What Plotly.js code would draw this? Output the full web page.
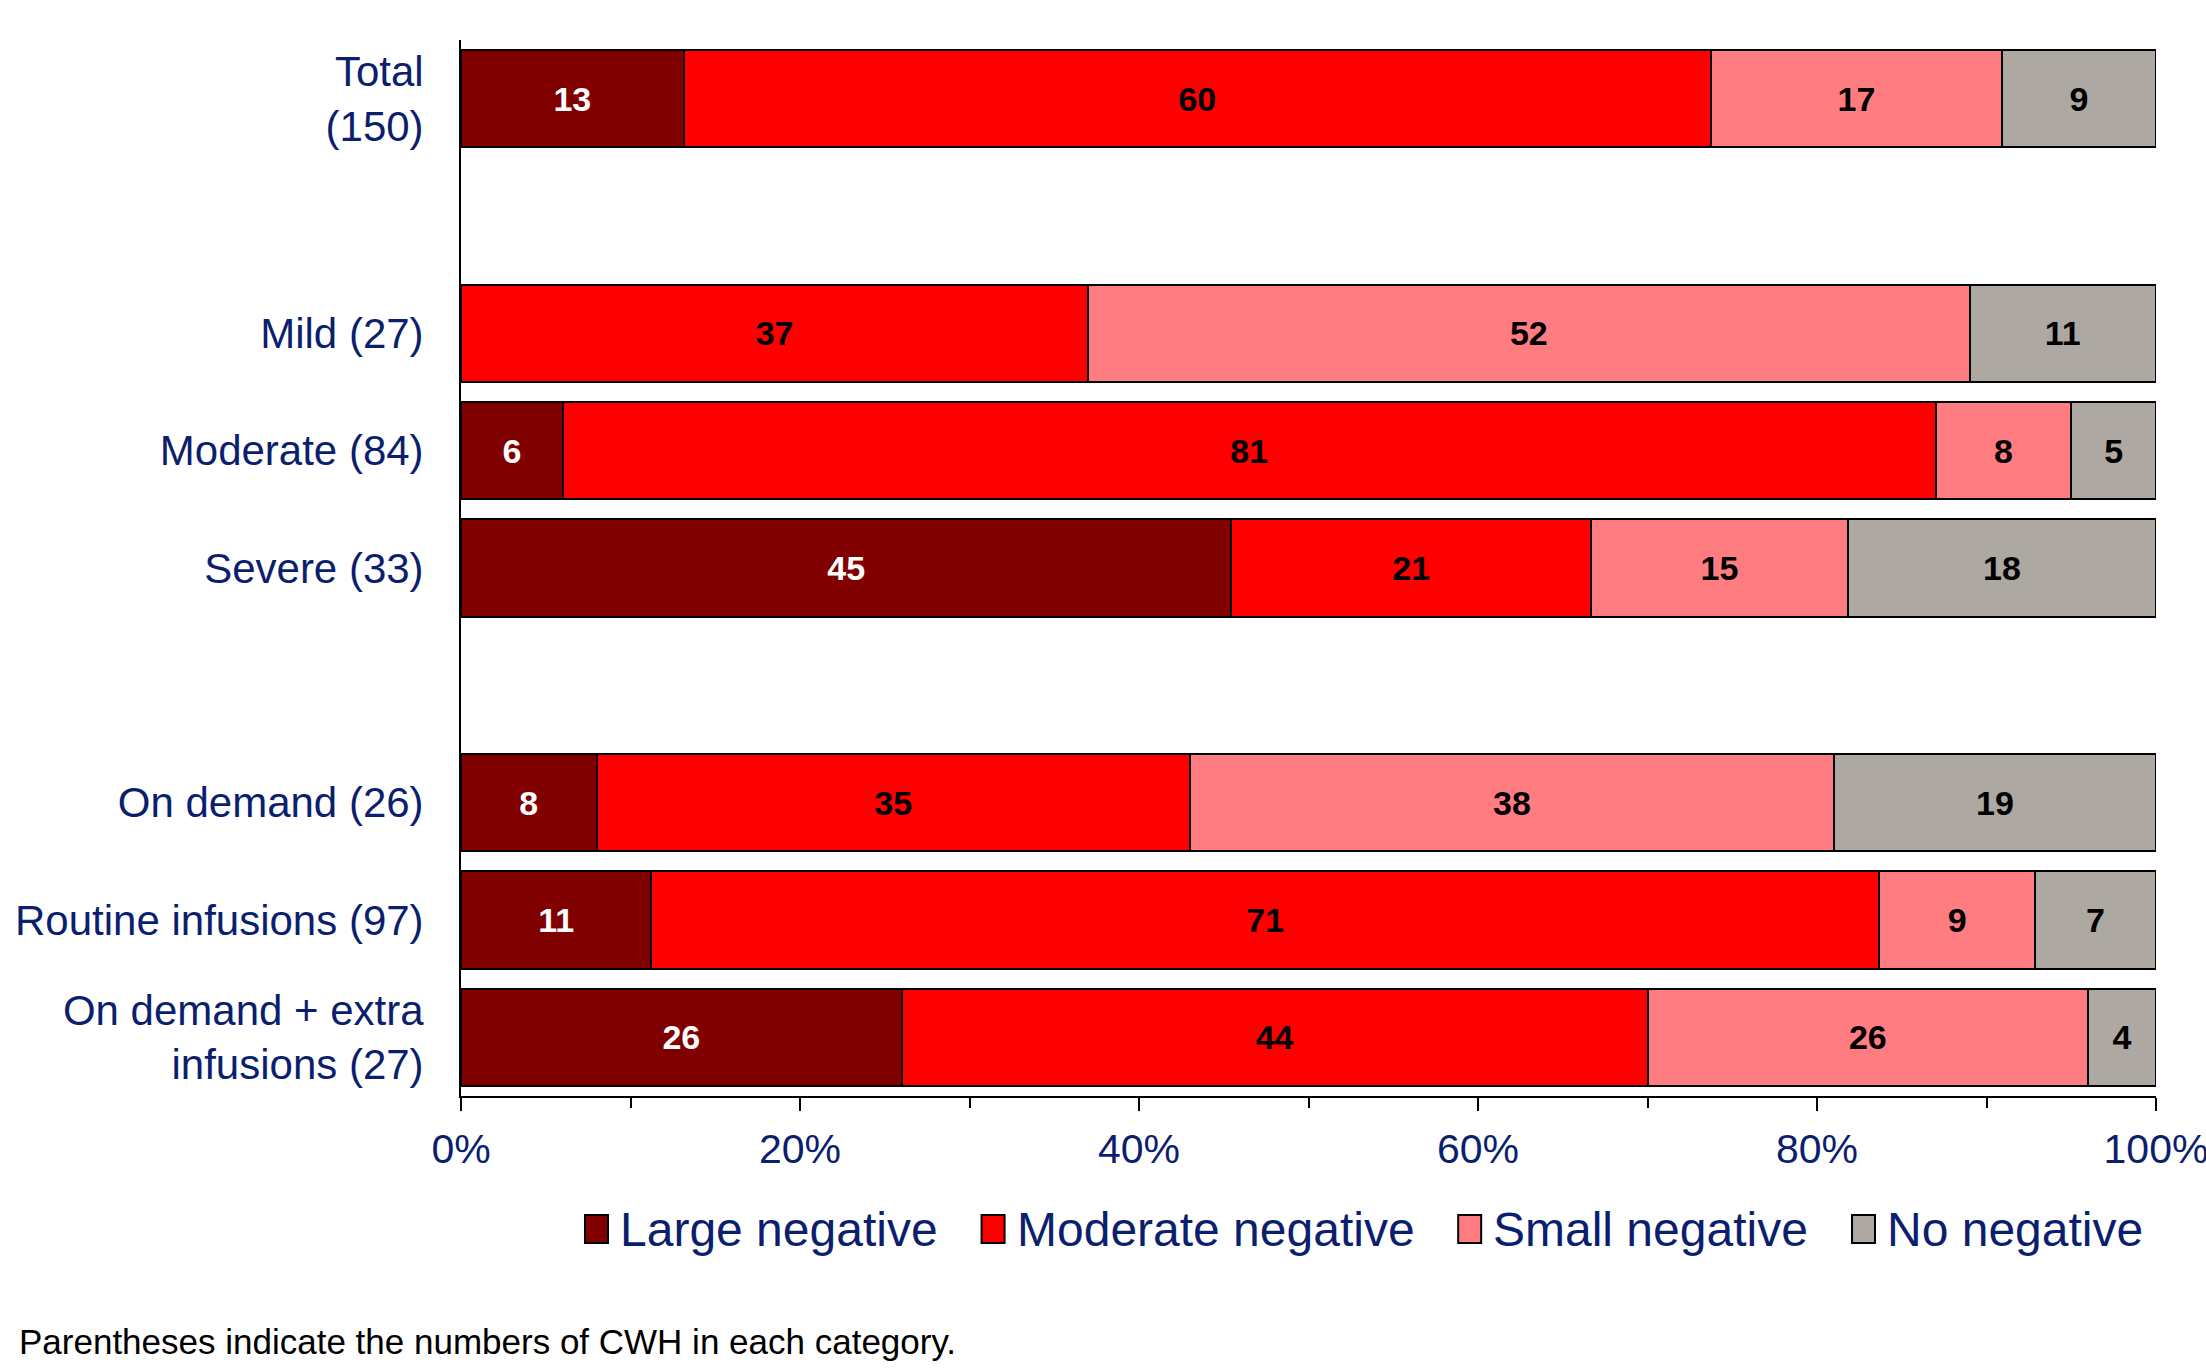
<!DOCTYPE html>
<html>
<head>
<meta charset="utf-8">
<script src="https://cdn.plot.ly/plotly-3.0.1.min.js"></script>
<style>
  html, body { margin: 0; padding: 0; background: #ffffff; }
  #chart { width: 2206px; height: 1371px; }
</style>
</head>
<body>
<div id="chart"></div>
<script>
// Category rows (blank entries are spacer rows between the groups)
const categories = [
  "Total<br>(150)", " ",
  "Mild (27)", "Moderate (84)", "Severe (33)", "  ",
  "On demand (26)", "Routine infusions (97)", "On demand + extra<br>infusions (27)"
];

// Series (percent of CWH in each row)
const seriesNames = ["Large negative", "Moderate negative", "Small negative", "No negative"];
const largeNegative    = [13, null, null,  6, 45, null,  8, 11, 26];
const moderateNegative = [60, null,   37, 81, 21, null, 35, 71, 44];
const smallNegative    = [17, null,   52,  8, 15, null, 38,  9, 26];
const noNegative       = [ 9, null,   11,  5, 18, null, 19,  7,  4];

// Axis ticks
const xTickVals = [0, 20, 40, 60, 80, 100];
const xTickText = ["0%", "20%", "40%", "60%", "80%", "100%"];

const footnote = "Parentheses indicate the numbers of CWH in each category.";

// Styling
const seriesColors = ["#800000", "#FF0000", "#FF7C80", "#AEA8A2"];
const labelColors  = ["#FFFFFF", "#000000", "#000000", "#000000"];
const navy = "#0B1F6E";
const FONT = "Liberation Sans, Arial, sans-serif";

const W = 2206, H = 1371;
const M = { l: 461, r: 50, t: 40, b: 275 };
const plotW = W - M.l - M.r, plotH = H - M.t - M.b;
const px2x = p => (p - M.l) / plotW;
const px2y = p => (H - M.b - p) / plotH;

const allSeries = [largeNegative, moderateNegative, smallNegative, noNegative];

const traces = allSeries.map((vals, i) => ({
  type: "bar",
  orientation: "h",
  name: seriesNames[i],
  y: categories,
  x: vals,
  text: vals.map(v => (v == null ? "" : String(v))),
  texttemplate: "%{text}",
  textposition: "inside",
  insidetextanchor: "middle",
  textangle: 0,
  constraintext: "none",
  textfont: { family: FONT, size: 34, weight: "bold", color: labelColors[i] },
  marker: { color: seriesColors[i], line: { color: "#000000", width: 2 } },
  hoverinfo: "skip"
}));

// Legend drawn as swatches + labels below the axis
const shapes = [];
const annotations = [];
const meas = document.createElement("canvas").getContext("2d");
const legendFontSize = 48;
meas.font = legendFontSize + "px 'Liberation Sans'";
let lx = 585;
const swW = 23, swTop = 1215, swBot = 1243, legY = 1229;
seriesNames.forEach((name, i) => {
  shapes.push({
    type: "rect", xref: "paper", yref: "paper",
    x0: px2x(lx), x1: px2x(lx + swW), y0: px2y(swBot), y1: px2y(swTop),
    fillcolor: seriesColors[i], line: { color: "#000000", width: 2 }
  });
  const tx = lx + swW + 10;
  annotations.push({
    xref: "paper", yref: "paper", x: px2x(tx), y: px2y(legY),
    xanchor: "left", yanchor: "middle", showarrow: false,
    text: name, font: { family: FONT, size: legendFontSize, color: navy }
  });
  lx = tx + meas.measureText(name).width + 46;
});

annotations.push({
  xref: "paper", yref: "paper", x: px2x(17), y: px2y(1341),
  xanchor: "left", yanchor: "middle", showarrow: false,
  text: footnote, font: { family: FONT, size: 35, color: "#000000" }
});

const layout = {
  width: W, height: H,
  margin: M,
  paper_bgcolor: "#ffffff",
  plot_bgcolor: "#ffffff",
  barmode: "stack",
  barnorm: "percent",
  bargap: 0.17,
  showlegend: false,
  font: { family: FONT, color: navy },
  xaxis: {
    range: [0, 100.0001],
    tickvals: xTickVals,
    ticktext: xTickText,
    ticks: "outside",
    ticklen: 13,
    tickwidth: 2,
    tickcolor: "#000000",
    minor: { dtick: 10, ticks: "outside", ticklen: 10, tickwidth: 2, tickcolor: "#000000", showgrid: false },
    ticklabelstandoff: 3,
    ticklabeloverflow: "allow",
    tickfont: { family: FONT, size: 41, color: navy },
    showline: true, linecolor: "#000000", linewidth: 2,
    showgrid: false, zeroline: false, fixedrange: true
  },
  yaxis: {
    type: "category",
    categoryorder: "array",
    categoryarray: categories,
    autorange: "reversed",
    ticks: "",
    ticklabelstandoff: 27,
    tickfont: { family: FONT, size: 42, color: navy },
    showline: true, linecolor: "#000000", linewidth: 2,
    showgrid: false, zeroline: false, fixedrange: true
  },
  shapes: shapes,
  annotations: annotations
};

Plotly.newPlot("chart", traces, layout, { displayModeBar: false, staticPlot: true });
</script>
</body>
</html>
